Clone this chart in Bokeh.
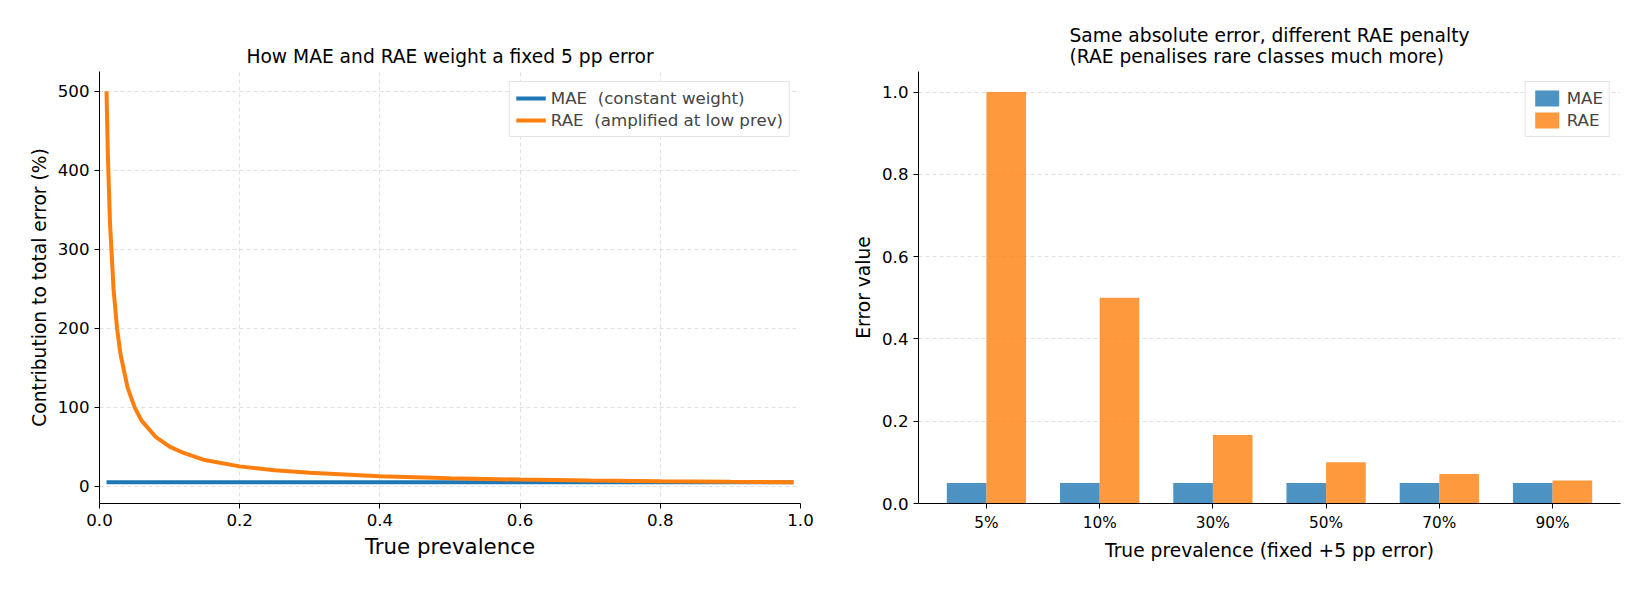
from bokeh.plotting import figure
from bokeh.layouts import row
from bokeh.models import FixedTicker, Legend, LegendItem, CustomJSTickFormatter
from bokeh.embed import file_html
from bokeh.resources import INLINE

# Left panel data
prev = [0.01, 0.012, 0.015, 0.02, 0.025, 0.03, 0.04, 0.05, 0.06, 0.08, 0.1, 0.12, 0.15,
        0.2, 0.25, 0.3, 0.4, 0.5, 0.6, 0.7, 0.8, 0.9, 0.99]
rae_curve = [500, 417, 333, 250, 200, 167, 125, 100, 83, 62.5, 50, 42, 33,
             25, 20, 17, 12.5, 10, 8.3, 7.1, 6.25, 5.6, 5.05]
mae_curve = [5] * len(prev)

# Right panel data
cats = ["5%", "10%", "30%", "50%", "70%", "90%"]
mae_bar = [0.05, 0.05, 0.05, 0.05, 0.05, 0.05]
rae_bar = [1.0, 0.5, 0.1667, 0.1, 0.0714, 0.0556]

FONT = "DejaVu Sans"
BLUE, ORANGE = "#1f77b4", "#ff7f0e"

def style(p):
    p.outline_line_color = None
    for g in (p.xgrid, p.ygrid):
        g.grid_line_dash = "4 3"
        g.grid_line_color = "#e0e0e0"
    for ax in (p.xaxis, p.yaxis):
        ax.axis_label_text_font = FONT
        ax.axis_label_text_font_style = "normal"
        ax.axis_label_text_color = "black"
        ax.major_label_text_font = FONT
        ax.major_label_text_font_size = "12.5pt"
        ax.major_label_text_color = "black"
        ax.axis_line_color = "black"
        ax.major_tick_line_color = "black"
        ax.minor_tick_line_color = None
        ax.major_tick_in = 0
        ax.major_tick_out = 5
    p.title.text_font = FONT
    p.title.text_font_style = "normal"
    p.title.text_font_size = "14pt"
    p.title.text_color = "black"
    p.title.align = "center"

p1 = figure(width=845, height=584, output_backend="svg", toolbar_location=None,
            x_range=(0, 1), y_range=(-22, 525),
            title="How MAE and RAE weight a fixed 5 pp error",
            min_border_left=99, min_border_right=45, min_border_top=71, min_border_bottom=81)
style(p1)
p1.xaxis.ticker = FixedTicker(ticks=[0, 0.2, 0.4, 0.6, 0.8, 1.0])
p1.xaxis.formatter = CustomJSTickFormatter(code="return tick.toFixed(1)")
p1.yaxis.ticker = FixedTicker(ticks=[0, 100, 200, 300, 400, 500])
p1.xaxis.axis_label = "True prevalence"
p1.xaxis.axis_label_text_font_size = "16pt"
p1.yaxis.axis_label = "Contribution to total error (%)"
p1.yaxis.axis_label_text_font_size = "14pt"
l1 = p1.line(prev, mae_curve, line_color=BLUE, line_width=4)
l2 = p1.line(prev, rae_curve, line_color=ORANGE, line_width=4)
leg1 = Legend(items=[LegendItem(label="MAE  (constant weight)", renderers=[l1]),
                     LegendItem(label="RAE  (amplified at low prev)", renderers=[l2])],
              location="top_right", label_text_font=FONT, label_text_font_size="12.5pt",
              border_line_color="#cccccc", spacing=2, padding=6, margin=10, glyph_width=30)
p1.add_layout(leg1)

x = list(range(len(cats)))
xm = [i - 0.175 for i in x]
xr = [i + 0.175 for i in x]
p2 = figure(width=788, height=584, output_backend="svg", toolbar_location=None,
            x_range=(-0.6, 5.6), y_range=(0, 1.05),
            title="Same absolute error, different RAE penalty\n(RAE penalises rare classes much more)",
            min_border_left=73, min_border_right=13, min_border_top=71, min_border_bottom=81)
style(p2)
p2.xgrid.grid_line_color = None
p2.xaxis.ticker = FixedTicker(ticks=x)
p2.xaxis.major_label_overrides = {i: c for i, c in enumerate(cats)}
p2.xaxis.major_label_text_font_size = "11.5pt"
p2.yaxis.ticker = FixedTicker(ticks=[0, 0.2, 0.4, 0.6, 0.8, 1.0])
p2.yaxis.formatter = CustomJSTickFormatter(code="return tick.toFixed(1)")
p2.xaxis.axis_label = "True prevalence (fixed +5 pp error)"
p2.xaxis.axis_label_text_font_size = "14pt"
p2.yaxis.axis_label = "Error value"
p2.yaxis.axis_label_text_font_size = "14pt"
b1 = p2.vbar(x=xm, top=mae_bar, width=0.35, fill_color=BLUE, fill_alpha=0.8, line_color=None)
b2 = p2.vbar(x=xr, top=rae_bar, width=0.35, fill_color=ORANGE, fill_alpha=0.8, line_color=None)
leg2 = Legend(items=[LegendItem(label="MAE", renderers=[b1]),
                     LegendItem(label="RAE", renderers=[b2])],
              location="top_right", label_text_font=FONT, label_text_font_size="12.5pt",
              border_line_color="#cccccc", spacing=2, padding=6, margin=10, glyph_width=30)
p2.add_layout(leg2)

page = row(p1, p2)
open("out.html", "w").write(file_html(page, INLINE))
